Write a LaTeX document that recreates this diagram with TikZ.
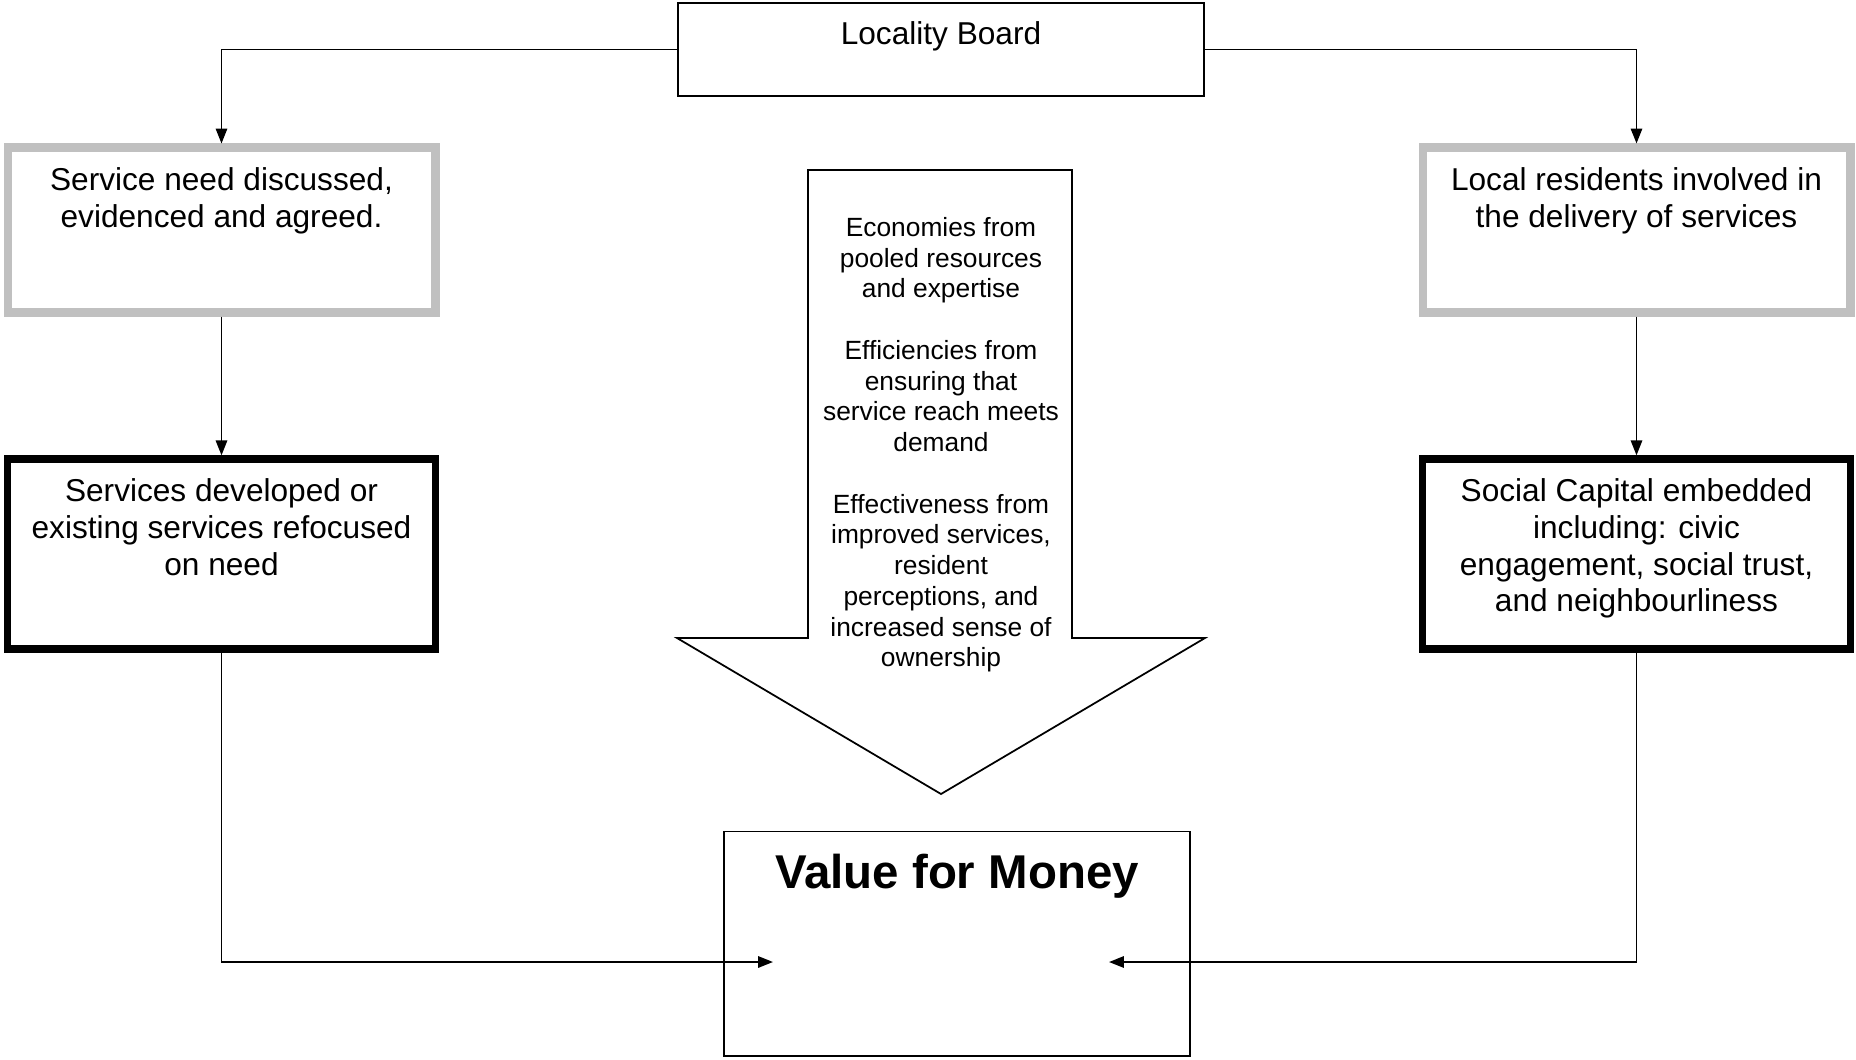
\documentclass[tikz,border=0pt]{standalone}
\usepackage{fontspec}
\setmainfont{Liberation Sans}
\usetikzlibrary{positioning,arrows.meta}

\definecolor{boxgrey}{RGB}{192,192,192}

\tikzset{
  plain box/.style={draw, line width=1pt, inner sep=0pt},
  grey box/.style={draw=boxgrey, line width=4.6pt, inner sep=0pt, minimum width=8.56cm, minimum height=3.3cm},
  black box/.style={draw, line width=4.2pt, inner sep=0pt, minimum width=8.56cm, minimum height=3.8cm},
  box text/.style={align=center, inner sep=0pt, font=\fontsize{18}{21}\selectfont},
  arrow text/.style={align=center, inner sep=0pt, font=\fontsize{15}{17.5}\selectfont},
  title text/.style={inner sep=0pt, font=\fontsize{27}{32}\selectfont\bfseries}
}

\begin{document}
\begin{tikzpicture}[x=0.02cm, y=-0.02cm, >={Triangle[length=8.5pt, width=6.5pt]}, line width=1pt]

  \useasboundingbox (0,0) rectangle (1856,1059);

  \node [plain box, minimum width=10.52cm, minimum height=1.86cm] (board) at (941,49.5) {};
  \node [box text, below=10.5pt of board.north] (board-text) {Locality Board};

  \foreach \s/\x in {need/221.5, residents/1636.5}
  \node [grey box] (\s) at (\x,230) {};

  \foreach \s/\x in {develop/221.5, capital/1636.5}
  \node [black box] (\s) at (\x,554) {};

  \node [box text, below=13.2pt of need.north] (need-text)
  {Service need discussed,\\evidenced and agreed.};
  \node [box text, below=13.2pt of residents.north] (residents-text)
  {Local residents involved in\\the delivery of services};
  \node [box text, below=12.6pt of develop.north] (develop-text)
  {Services developed or\\existing services refocused\\on need};
  \node [box text, below=12.6pt of capital.north] (capital-text)
  {Social Capital embedded\\including: civic\\engagement, social trust,\\and neighbourliness};

  \draw [->] (board.west) -| (need.north);
  \draw [->] (board.east) -| (residents.north);

  \foreach \s/\t in {need/develop, residents/capital}
  \draw [->] (\s) -- (\t);

  \draw (808,170) -- (1072,170) -- (1072,638) -- (1205,638) -- (941,794)
  -- (677,638) -- (808,638) -- cycle;
  \node [arrow text, anchor=north] (gains) at (941,216.5)
  {Economies from\\pooled resources\\and expertise\\[17.5pt]
   Efficiencies from\\ensuring that\\service reach meets\\demand\\[17.5pt]
   Effectiveness from\\improved services,\\resident\\perceptions, and\\increased sense of\\ownership};

  \node [plain box, minimum width=9.32cm, minimum height=4.49cm] (vfm) at (957,943.75) {};
  \node [title text, below=13pt of vfm.north] (vfm-text) {Value for Money};

  \coordinate (vfm-left) at (773,962);
  \coordinate (vfm-right) at (1109,962);

  \draw [->] (develop.south) |- (vfm-left);
  \draw [->] (capital.south) |- (vfm-right);

\end{tikzpicture}
\end{document}
